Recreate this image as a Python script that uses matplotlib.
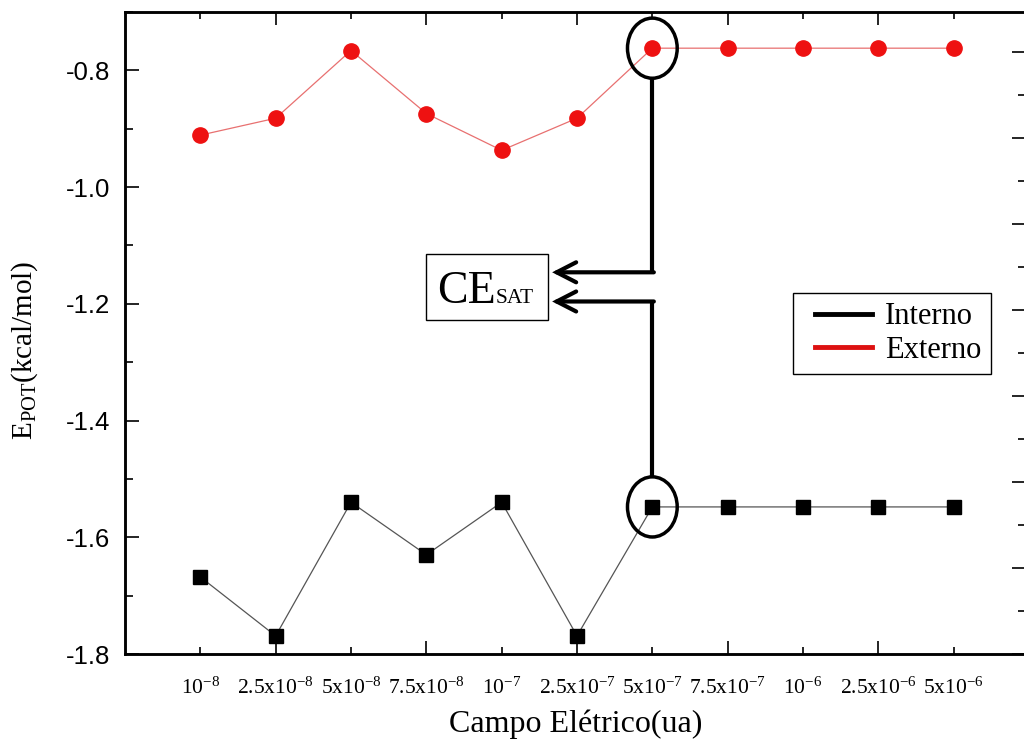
import numpy as np
import matplotlib
matplotlib.use('Agg')
import matplotlib.pyplot as plt
from matplotlib.patches import Ellipse, Rectangle
from matplotlib.lines import Line2D
from matplotlib.legend_handler import HandlerLine2D

plt.rcParams['font.family'] = 'Liberation Serif'
plt.rcParams['mathtext.fontset'] = 'custom'
plt.rcParams['mathtext.rm'] = 'Liberation Serif'
plt.rcParams['axes.unicode_minus'] = False

# -----------------------------
# Data
# -----------------------------
campo_labels = [r'$\mathregular{10^{-8}}$', r'$\mathregular{2.5x10^{-8}}$', r'$\mathregular{5x10^{-8}}$',
                r'$\mathregular{7.5x10^{-8}}$', r'$\mathregular{10^{-7}}$', r'$\mathregular{2.5x10^{-7}}$',
                r'$\mathregular{5x10^{-7}}$', r'$\mathregular{7.5x10^{-7}}$', r'$\mathregular{10^{-6}}$',
                r'$\mathregular{2.5x10^{-6}}$', r'$\mathregular{5x10^{-6}}$']
interno = [-1.668, -1.769, -1.540, -1.630, -1.540, -1.769, -1.548, -1.548, -1.548, -1.548, -1.548]
externo = [-0.911, -0.882, -0.766, -0.874, -0.937, -0.882, -0.762, -0.762, -0.762, -0.762, -0.762]
sat_idx = 6  # saturation field (5x10^-7)

x = np.arange(len(campo_labels))

# -----------------------------
# Figure
# -----------------------------
fig = plt.figure(figsize=(10.24, 7.46), dpi=100)
ax = fig.add_axes([125/1024, 1 - 654/746, 901/1024, 642/746])

ax.plot(x, externo, '-', color='#e87070', lw=0.9, marker='o', ms=11,
        mfc='#ee1111', mec='#ee1111', zorder=3)
ax.plot(x, interno, '-', color='#555555', lw=0.9, marker='s', ms=10,
        mfc='black', mec='black', zorder=3)

ax.set_xlim(-1.0, 10.96)
ax.set_ylim(-1.8, -0.70)

# x ticks: long ticks on odd indices, short ones on even, all labelled
ax.set_xticks(x[1::2], [campo_labels[i] for i in x[1::2]])
ax.set_xticks(x[0::2], [campo_labels[i] for i in x[0::2]], minor=True)
ax.tick_params(axis='x', which='both', direction='in', top=True, labelsize=15.5, pad=17, width=1.2)
ax.tick_params(axis='x', which='major', length=9.5)
ax.tick_params(axis='x', which='minor', length=5)

ax.set_yticks(np.arange(-1.8, -0.79, 0.2))
ax.set_yticks(np.arange(-1.7, -0.69, 0.2), minor=True)
ax.yaxis.set_major_formatter('{x:.1f}')
ax.tick_params(axis='y', which='both', direction='in', labelsize=18.5, pad=10.5, width=1.2)
ax.tick_params(axis='y', which='major', length=10)
ax.tick_params(axis='y', which='minor', length=5.5)
for lab in ax.get_yticklabels():
    lab.set_family('Liberation Sans')

# right axis ticks (different spacing in the original)
ax2 = ax.twinx()
ax2.set_ylim(-7.0, 0.465)
ax2.set_yticks(np.arange(-7, 0.1, 1))
ax2.set_yticks(np.arange(-6.5, 0.1, 1), minor=True)
ax2.tick_params(axis='y', which='both', direction='in', labelright=False, width=1.2)
ax2.tick_params(axis='y', which='major', length=10)
ax2.tick_params(axis='y', which='minor', length=5.5)

for a in (ax, ax2):
    for sp in a.spines.values():
        sp.set_linewidth(1.8)

ax.set_xlabel('Campo Elétrico(ua)', fontsize=23, va='top')
ax.xaxis.set_label_coords(0.5, -0.087)
ax.set_ylabel(r'E$_{\mathregular{POT}}$(kcal/mol)', fontsize=21)
ax.yaxis.set_label_coords(-0.094, 0.4735)

# -----------------------------
# Saturation annotation
# -----------------------------
ell_w, ell_h = 0.66, 0.103
for y in (externo[sat_idx], interno[sat_idx]):
    ax.add_patch(Ellipse((sat_idx, y), ell_w, ell_h, fill=False, ec='black', lw=2.5, zorder=4))

y_up, y_dn, x_tip = -1.146, -1.196, 4.67
ax.plot([sat_idx, sat_idx], [externo[sat_idx] - ell_h/2, y_up], color='black', lw=3, solid_capstyle='butt')
ax.plot([sat_idx, sat_idx], [interno[sat_idx] + ell_h/2, y_dn], color='black', lw=3, solid_capstyle='butt')
for yy in (y_up, y_dn):
    ax.annotate('', xy=(x_tip, yy), xytext=(sat_idx + 0.02, yy),
                arrowprops=dict(arrowstyle='->,head_length=0.7,head_width=0.36', lw=3,
                                color='black', mutation_scale=20, shrinkA=0, shrinkB=0,
                                joinstyle='miter'))

ax.add_patch(Rectangle((3.0, -1.228), 1.61, 0.113, fill=True, fc='white', ec='black', lw=1, zorder=4))
t_ce = ax.text(3.14, -1.199, 'CE', fontsize=33, va='baseline', ha='left', zorder=5)
ax.annotate('SAT', xy=(1, -1.199), xycoords=(t_ce, 'data'), fontsize=15.5,
            va='baseline', ha='left', zorder=5)

# -----------------------------
# Legend
# -----------------------------
handles = [Line2D([], [], color='black', lw=3.5), Line2D([], [], color='#dd1111', lw=3.5)]
leg = ax.legend(handles, ['Interno', 'Externo'], loc='upper left', bbox_to_anchor=(0.741, 0.562),
                borderaxespad=0, fontsize=22, handlelength=2.3, handletextpad=0.43,
                borderpad=0.3, labelspacing=0.15, fancybox=False, framealpha=1, edgecolor='black',
                handler_map={Line2D: HandlerLine2D(xpad=0.43)})
leg.get_frame().set_linewidth(1)

fig.savefig('out.png', dpi=100)
